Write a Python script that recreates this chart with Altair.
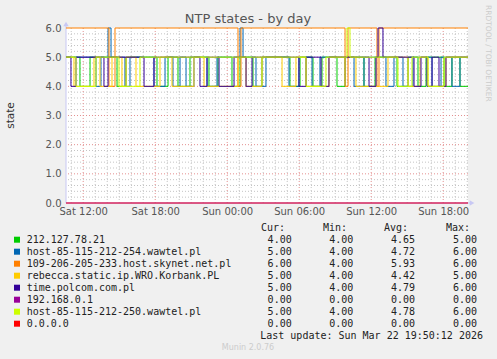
import altair as alt
import pandas as pd

# time axis: hours since Sat 00:00
T_START, T_END = 10.567, 44.067

series_names = ["212.127.78.21", "host-85-115-212-254.wawtel.pl",
                "109-206-205-233.host.skynet.net.pl", "rebecca.static.ip.WRO.Korbank.PL",
                "time.polcom.com.pl", "192.168.0.1", "host-85-115-212-250.wawtel.pl", "0.0.0.0"]
series_colors = ["#00CC00", "#0066B3", "#FF8000", "#FFCC00",
                 "#330099", "#990099", "#CCFF00", "#FF0000"]
cur_vals = ["4.00", "5.00", "6.00", "5.00", "5.00", "0.00", "5.00", "0.00"]
min_vals = ["4.00", "4.00", "4.00", "4.00", "4.00", "0.00", "4.00", "0.00"]
avg_vals = ["4.65", "4.72", "5.93", "4.42", "4.79", "0.00", "4.78", "0.00"]
max_vals = ["5.00", "6.00", "6.00", "5.00", "6.00", "0.00", "6.00", "0.00"]

# change points (hour, state) per series
green_t = [T_START, 11.73, 12.57, 14.82, 15.57, 18.15, 19.07, 19.90, 20.90, 22.48, 23.23, 24.40, 25.07,
           26.15, 26.90, 29.23, 30.07, 31.15, 31.90, 33.15, 33.82, 35.40, 36.32, 38.15, 39.07, 39.90,
           40.57, 42.07, 42.73, 43.40]
green_v = [5, 4, 5, 4, 5, 4, 5, 4, 5, 4, 5, 4, 5, 4, 5, 4, 5, 4, 5, 4, 5, 4, 5, 4, 5, 4, 5, 4, 5, 4]
blue_t = [T_START, 13.07, 13.48, 14.07, 14.32, 15.48, 15.90, 17.90, 18.82, 19.48, 20.07, 20.57, 21.23,
          22.32, 23.15, 25.07, 25.32, 26.40, 27.23, 29.15, 29.98, 31.07, 31.73, 34.57, 35.40, 37.23,
          37.90, 38.65, 39.48, 41.07, 41.82, 42.73, 43.40]
blue_v = [5, 4, 5, 6, 5, 4, 5, 4, 5, 4, 5, 4, 5, 4, 5, 6, 5, 4, 5, 4, 5, 4, 5, 4, 5, 4, 5, 4, 5, 4, 5, 4, 5]
orange_t = [T_START, 14.15, 14.65, 24.90, 25.15, 33.82, 34.07, 36.48, 36.65]
orange_v = [6, 4, 6, 4, 6, 4, 6, 4, 6]
yellow_t = [T_START, 11.23, 12.90, 13.40, 14.40, 15.23, 15.57, 16.40, 18.40, 19.40, 21.23, 22.07, 24.90,
            25.57, 26.90, 28.57, 29.73, 30.57, 32.48, 34.73, 37.40, 39.07, 40.07, 40.73, 42.23]
yellow_v = [5, 4, 5, 4, 5, 4, 5, 4, 5, 4, 5, 4, 5, 4, 5, 4, 5, 4, 5, 4, 5, 4, 5, 4, 5]
polcom_t = [T_START, 10.98, 11.40, 13.73, 14.07, 17.07, 17.90, 21.73, 22.32, 23.32, 24.57, 25.57, 26.07,
            29.98, 30.57, 31.82, 32.48, 35.82, 36.40, 36.57, 36.98, 39.57, 40.15, 40.65, 41.07, 41.65, 42.23]
polcom_v = [5, 4, 5, 4, 5, 4, 5, 4, 5, 4, 5, 4, 5, 4, 5, 4, 5, 4, 5, 6, 5, 4, 5, 4, 5, 4, 5]
local_t = [T_START]
local_v = [0]
lime_t = [T_START, 11.40, 13.07, 14.98, 16.73, 30.57, 32.23, 33.98, 34.23, 38.23, 39.40, 40.73, 42.07]
lime_v = [5, 4, 5, 4, 5, 4, 5, 6, 5, 4, 5, 4, 5]
zero_t = [T_START]
zero_v = [0]

series_t = [green_t, blue_t, orange_t, yellow_t, polcom_t, local_t, lime_t, zero_t]
series_v = [green_v, blue_v, orange_v, yellow_v, polcom_v, local_v, lime_v, zero_v]

x_major = [12, 18, 24, 30, 36, 42]
x_labels = ["Sat 12:00", "Sat 18:00", "Sun 00:00", "Sun 06:00", "Sun 12:00", "Sun 18:00"]
x_minor = [h for h in range(11, 45) if h % 6 != 0]
y_ticks = [0, 1, 2, 3, 4, 5, 6]
y_major = [1, 2, 3, 4, 5]
y_minor = [round(i * 0.2, 1) for i in range(1, 30) if i % 5 != 0]

title_text = "NTP states - by day"
y_title = "state"
side_text = "RRDTOOL / TOBI OETIKER"
update_text = "Last update: Sun Mar 22 19:50:12 2026"
footer_text = "Munin 2.0.76"
headers = ["Cur:", "Min:", "Avg:", "Max:"]

W, H = 402, 175
FONT = "DejaVu Sans"
MONO = "DejaVu Sans Mono"

label_expr = "''"
for v, l in zip(reversed(x_major), reversed(x_labels)):
    label_expr = f"datum.value == {v} ? '{l}' : ({label_expr})"

xscale = alt.Scale(domain=[T_START, T_END], nice=False, zero=False)
yscale = alt.Scale(domain=[0, 6], nice=False, zero=True)
xaxis = alt.Axis(values=x_major, labelExpr=label_expr, grid=False, ticks=False, domain=False,
                 labelPadding=3, labelFont=FONT, labelFontSize=10, labelColor="#555555",
                 title=None, labelFlush=False, labelOverlap=False)
yaxis = alt.Axis(values=y_ticks, format=".1f", grid=False, ticks=False, domain=False,
                 labelPadding=5, labelFont=FONT, labelFontSize=10, labelColor="#555555", title=None)

layers = []
# grid
layers.append(alt.Chart(pd.DataFrame({"y": y_minor})).mark_rule(
    color="#c4c4c4", strokeDash=[1, 2], strokeWidth=1).encode(
    y=alt.Y("y:Q", scale=yscale, axis=None)))
layers.append(alt.Chart(pd.DataFrame({"x": x_minor})).mark_rule(
    color="#c4c4c4", strokeDash=[1, 2], strokeWidth=1).encode(
    x=alt.X("x:Q", scale=xscale, axis=xaxis)))
layers.append(alt.Chart(pd.DataFrame({"y": y_major})).mark_rule(
    color="#e49090", strokeDash=[1, 2], strokeWidth=1).encode(
    y=alt.Y("y:Q", scale=yscale, axis=None)))
layers.append(alt.Chart(pd.DataFrame({"x": x_major})).mark_rule(
    color="#e49090", strokeDash=[1, 2], strokeWidth=1).encode(
    x=alt.X("x:Q", scale=xscale, axis=xaxis)))

# axis lines and arrows
axis_df = pd.DataFrame({"a": [0]})
layers.append(alt.Chart(axis_df).mark_rule(color="#c8c8f4", strokeWidth=1).encode(
    x=alt.value(0), y=alt.value(-4), y2=alt.value(H)))
layers.append(alt.Chart(axis_df).mark_rule(color="#c8c8f4", strokeWidth=1).encode(
    x=alt.value(0), x2=alt.value(W + 4), y=alt.value(H)))
layers.append(alt.Chart(axis_df).mark_point(shape="triangle-up", filled=True, size=30,
                                             color="#c8c8f4", opacity=1).encode(
    x=alt.value(0), y=alt.value(-4)))
layers.append(alt.Chart(axis_df).mark_point(shape="triangle-right", filled=True, size=30,
                                             color="#c8c8f4", opacity=1).encode(
    x=alt.value(W + 4), y=alt.value(H)))

# series
for i, (name, color, ts, vs) in enumerate(zip(series_names, series_colors, series_t, series_v)):
    hs = list(ts) + [T_END]
    ss = list(vs) + [vs[-1]]
    df = pd.DataFrame({"h": hs, "v": ss, "name": name})
    layers.append(alt.Chart(df).mark_line(interpolate="step-after", color=color,
                                          strokeWidth=1, clip=False,
                                          opacity=0.75 if vs[-1] == 0 else 1).encode(
        x=alt.X("h:Q", scale=xscale, axis=xaxis),
        y=alt.Y("v:Q", scale=yscale, axis=yaxis if i == 0 else None)))

# titles
layers.append(alt.Chart(pd.DataFrame({"t": [title_text]})).mark_text(
    font=FONT, fontSize=13, color="#555555", align="center", baseline="middle").encode(
    text="t:N", x=alt.value(182), y=alt.value(-9)))
layers.append(alt.Chart(pd.DataFrame({"t": [y_title]})).mark_text(
    font=FONT, fontSize=10.5, color="#333333", align="center", baseline="middle", angle=270).encode(
    text="t:N", x=alt.value(-55), y=alt.value(H / 2)))
layers.append(alt.Chart(pd.DataFrame({"t": [side_text]})).mark_text(
    font=FONT, fontSize=7.5, color="#cccccc", align="left", baseline="middle", angle=90).encode(
    text="t:N", x=alt.value(421.5), y=alt.value(-23)))

# legend table
rows_y = alt.Scale(domain=[0, 10], range=[199.7, 319.7])
leg = pd.DataFrame({"row": list(range(1, 9)), "name": series_names, "cur": cur_vals,
                    "min": min_vals, "avg": avg_vals, "max": max_vals})
layers.append(alt.Chart(leg).mark_square(size=36, opacity=1).encode(
    x=alt.value(-49), y=alt.Y("row:Q", scale=rows_y, axis=None),
    color=alt.Color("name:N", scale=alt.Scale(domain=series_names, range=series_colors), legend=None)))
layers.append(alt.Chart(leg).mark_text(font=MONO, fontSize=10, color="#222222", align="left",
                                       baseline="middle").encode(
    x=alt.value(-39.3), y=alt.Y("row:Q", scale=rows_y, axis=None), text="name:N"))
for col, xr in zip(["cur", "min", "avg", "max"], [225.7, 287.3, 349, 411]):
    layers.append(alt.Chart(leg).mark_text(font=MONO, fontSize=10, color="#222222", align="right",
                                           baseline="middle").encode(
        x=alt.value(xr), y=alt.Y("row:Q", scale=rows_y, axis=None), text=f"{col}:N"))
for hdr, xr in zip(headers, [219, 281, 342, 404]):
    layers.append(alt.Chart(pd.DataFrame({"row": [0], "t": [hdr]})).mark_text(
        font=MONO, fontSize=10, color="#222222", align="right", baseline="middle").encode(
        x=alt.value(xr), y=alt.Y("row:Q", scale=rows_y, axis=None), text="t:N"))
layers.append(alt.Chart(pd.DataFrame({"row": [9], "t": [update_text]})).mark_text(
    font=MONO, fontSize=10, color="#222222", align="right", baseline="middle").encode(
    x=alt.value(417), y=alt.Y("row:Q", scale=rows_y, axis=None), text="t:N"))
layers.append(alt.Chart(pd.DataFrame({"row": [10], "t": [footer_text]})).mark_text(
    font=FONT, fontSize=8, color="#cccccc", align="center", baseline="middle").encode(
    x=alt.value(182), y=alt.Y("row:Q", scale=rows_y, axis=None), text="t:N"))

chart = alt.layer(*layers).resolve_scale(y="independent").properties(
    width=W, height=H,
    padding={"left": 66, "top": 28, "right": 29, "bottom": 156},
    autosize=alt.AutoSizeParams(type="none"),
    background="#f0f0f0",
).configure_view(fill="white", strokeWidth=0)

chart.save("out.html", embed_options={"renderer": "svg", "actions": False})
